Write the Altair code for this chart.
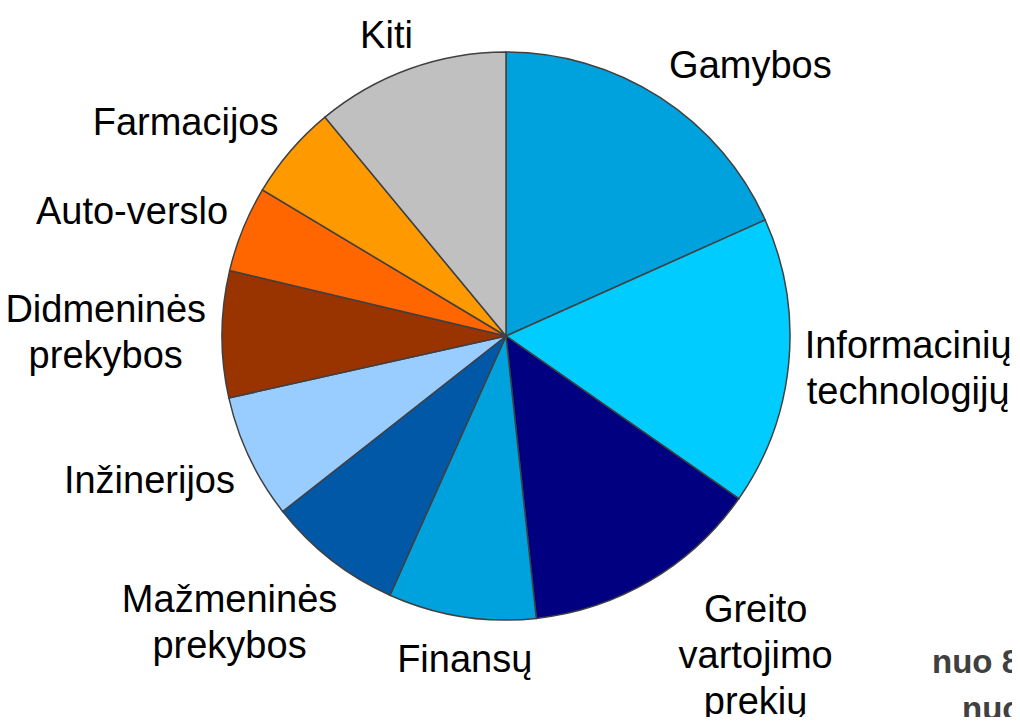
import altair as alt
import pandas as pd

# ---- data ----
categories = [
    "Gamybos", "Informacinių technologijų", "Greito vartojimo prekių", "Finansų",
    "Mažmeninės prekybos", "Inžinerijos", "Didmeninės prekybos", "Auto-verslo",
    "Farmacijos", "Kiti",
]
label_lines = [
    ["Gamybos"],
    ["Informacinių", "technologijų"],
    ["Greito", "vartojimo", "prekių"],
    ["Finansų"],
    ["Mažmeninės", "prekybos"],
    ["Inžinerijos"],
    ["Didmeninės", "prekybos"],
    ["Auto-verslo"],
    ["Farmacijos"],
    ["Kiti"],
]
shares = [18.3, 16.4, 13.6, 8.4, 7.7, 7.1, 7.2, 4.9, 5.4, 11.0]
colors = [
    "#00A2DE", "#00CCFF", "#000080", "#00A2DE", "#0058A6",
    "#99CCFF", "#993300", "#FF6600", "#FF9900", "#C0C0C0",
]
note_lines = ["nuo 8", "nuo"]

# ---- layout / style ----
FONT = "Liberation Sans, Arial, Helvetica, sans-serif"
FS = 38
LH = 46
CX, CY = 498, 328
R = 284
RL = 300

# Arial-compatible advance widths (per 1000 em) for label width estimates
ADV = {
    "a": 556, "b": 556, "c": 500, "d": 556, "e": 556, "f": 278, "g": 556, "h": 556,
    "i": 222, "j": 222, "k": 500, "l": 222, "m": 833, "n": 556, "o": 556, "p": 556,
    "r": 333, "s": 500, "t": 278, "u": 556, "v": 500, "y": 500, "z": 500, "ž": 500,
    "ė": 556, "ų": 556, "G": 778, "I": 278, "F": 611, "M": 833, "D": 722, "A": 667,
    "K": 667, "-": 333, " ": 278,
}


def text_w(s):
    return sum(ADV.get(ch, 556) for ch in s) * FS / 1000.0


df = pd.DataFrame({
    "cat": categories,
    "value": shares,
    "idx": list(range(len(categories))),
    "lines": label_lines,
    "w": [max(text_w(l) for l in ls) for ls in label_lines],
    "nl": [len(ls) for ls in label_lines],
})

pie = alt.Chart(df).mark_arc(
    radius=R, stroke="#404040", strokeWidth=1.5
).encode(
    theta=alt.Theta("value:Q", stack=True),
    color=alt.Color("cat:N", scale=alt.Scale(domain=categories, range=colors), legend=None),
    order=alt.Order("idx:Q"),
    x=alt.value(CX),
    y=alt.value(CY),
)

labels = alt.Chart(df).transform_window(
    cum="sum(value)", sort=[alt.SortField("idx")], frame=[None, 0]
).transform_joinaggregate(
    total="sum(value)"
).transform_calculate(
    ang="2*PI*(datum.cum - datum.value/2)/datum.total"
).transform_calculate(
    s="sin(datum.ang)", c="cos(datum.ang)"
).transform_calculate(
    lx=(f"{CX} + {RL}*datum.s + clamp(2.0*datum.s,-1,1)*datum.w/2"
        f" + 55*max(0, -datum.c - 0.5)"),
    ly=(f"{CY} - {RL}*datum.c - clamp(1.5*datum.c,-1,1)*(datum.nl*{LH}-12)/2"
        f" - (datum.nl-1)*{LH}/2"
        f" + 15*max(0, -datum.c)*clamp(-5*datum.s, 0, 1)"),
).mark_text(
    font=FONT, fontSize=FS, lineHeight=LH, align="center", baseline="middle", color="#000000"
).encode(
    x=alt.X("lx:Q", scale=None),
    y=alt.Y("ly:Q", scale=None),
    text=alt.Text("lines"),
)

note1 = alt.Chart(pd.DataFrame({"t": [note_lines[0]]})).mark_text(
    font=FONT, fontSize=33, fontWeight="bold", color="#404040", align="left", baseline="alphabetic"
).encode(x=alt.value(924), y=alt.value(665), text="t:N")

note2 = alt.Chart(pd.DataFrame({"t": [note_lines[1]]})).mark_text(
    font=FONT, fontSize=33, fontWeight="bold", color="#404040", align="left", baseline="alphabetic"
).encode(x=alt.value(954), y=alt.value(712), text="t:N")

chart = alt.layer(pie, labels, note1, note2).properties(
    width=1004, height=709, autosize="none", padding=0
).configure_view(stroke=None)

chart.save("out.html", embed_options={"renderer": "svg", "actions": False})
